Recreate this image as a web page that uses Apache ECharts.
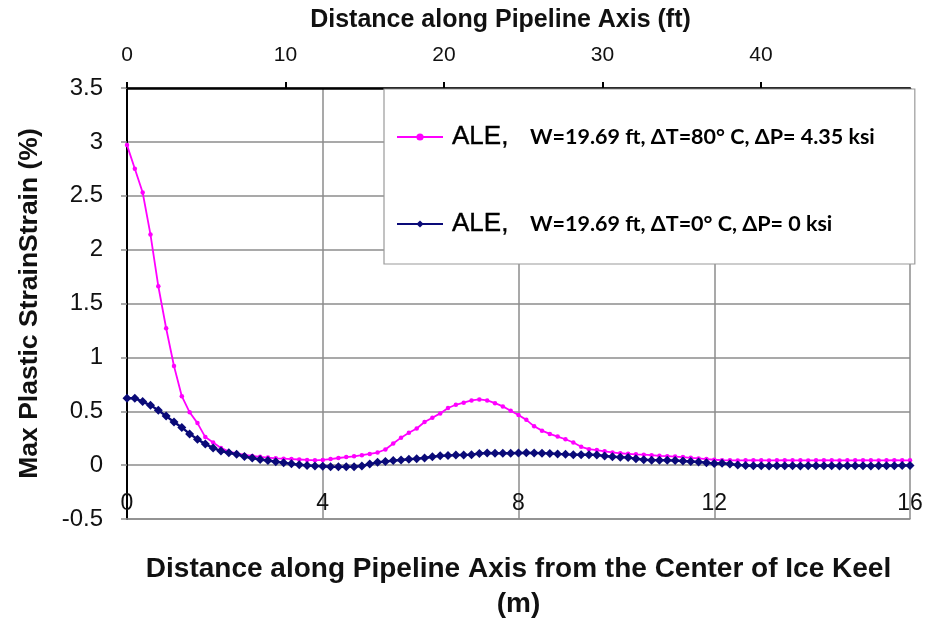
<!DOCTYPE html>
<html>
<head>
<meta charset="utf-8">
<script src="https://cdn.jsdelivr.net/npm/echarts@6/dist/echarts.min.js"></script>
<style>html,body{margin:0;padding:0;background:#fff}#c{width:927px;height:619px}</style>
</head>
<body>
<div id="c"></div>
<script>
// Distance along pipeline axis (m)
const distM = [0,0.16,0.32,0.48,0.64,0.8,0.96,1.12,1.28,1.44,1.6,1.76,1.92,2.08,2.24,2.4,2.56,2.72,2.88,3.04,3.2,3.36,3.52,3.68,3.84,4,4.16,4.32,4.48,4.64,4.8,4.96,5.12,5.28,5.44,5.6,5.76,5.92,6.08,6.24,6.4,6.56,6.72,6.88,7.04,7.2,7.36,7.52,7.68,7.84,8,8.16,8.32,8.48,8.64,8.8,8.96,9.12,9.28,9.44,9.6,9.76,9.92,10.08,10.24,10.4,10.56,10.72,10.88,11.04,11.2,11.36,11.52,11.68,11.84,12,12.16,12.32,12.48,12.64,12.8,12.96,13.12,13.28,13.44,13.6,13.76,13.92,14.08,14.24,14.4,14.56,14.72,14.88,15.04,15.2,15.36,15.52,15.68,15.84,16];
// ALE, dT=80 C, dP=4.35 ksi
const strainHot = [2.97,2.75,2.53,2.14,1.66,1.27,0.92,0.64,0.49,0.39,0.26,0.21,0.16,0.125,0.11,0.095,0.085,0.077,0.07,0.063,0.06,0.056,0.052,0.048,0.045,0.048,0.056,0.066,0.075,0.082,0.092,0.104,0.117,0.145,0.2,0.255,0.3,0.34,0.4,0.44,0.48,0.53,0.56,0.58,0.6,0.61,0.6,0.575,0.545,0.505,0.465,0.42,0.36,0.32,0.29,0.265,0.24,0.21,0.17,0.148,0.14,0.128,0.118,0.11,0.105,0.1,0.097,0.092,0.086,0.083,0.079,0.075,0.068,0.062,0.056,0.05,0.046,0.045,0.044,0.045,0.046,0.045,0.044,0.045,0.046,0.045,0.045,0.044,0.045,0.046,0.045,0.044,0.045,0.045,0.046,0.045,0.044,0.045,0.046,0.045,0.045];
// ALE, dT=0 C, dP=0 ksi
const strainCold = [0.62,0.62,0.59,0.555,0.51,0.455,0.4,0.35,0.29,0.24,0.195,0.16,0.13,0.115,0.1,0.08,0.065,0.052,0.043,0.032,0.022,0.012,0.003,-0.003,-0.007,-0.01,-0.015,-0.016,-0.016,-0.014,-0.008,0.01,0.026,0.034,0.042,0.048,0.055,0.06,0.066,0.078,0.086,0.09,0.093,0.095,0.097,0.108,0.113,0.11,0.11,0.11,0.112,0.114,0.113,0.111,0.109,0.104,0.1,0.097,0.096,0.096,0.095,0.085,0.078,0.074,0.07,0.06,0.05,0.046,0.046,0.045,0.042,0.038,0.034,0.03,0.022,0.014,0.018,0.01,0.002,-0.004,-0.006,-0.005,-0.007,-0.006,-0.005,-0.006,-0.007,-0.005,-0.006,-0.006,-0.005,-0.007,-0.006,-0.005,-0.006,-0.007,-0.005,-0.006,-0.005,-0.004,-0.003];

const seriesNames = ['ALE80', 'ALE0'];
const legendLead = ['ALE,', 'ALE,'];
const legendDetail = ['W=19.69 ft, ΔT=80° C, ΔP= 4.35 ksi', 'W=19.69 ft, ΔT=0° C, ΔP= 0 ksi'];
const yTitle = 'Max Plastic StrainStrain (%)';
const xTitle = 'Distance along Pipeline Axis from the Center of Ice Keel\n(m)';
const xTopTitle = 'Distance along Pipeline Axis (ft)';

const chart = echarts.init(document.getElementById('c'), null, {renderer: 'canvas'});
const grid = '#8c8c8c';
chart.setOption({
  animation: false,
  backgroundColor: '#fff',
  grid: {left: 127, right: 17, top: 88, bottom: 100, containLabel: false, outerBoundsMode: 'none'},
  legend: {
    orient: 'vertical',
    left: 384, top: 89,
    padding: [33, 40, 25, 12],
    itemGap: 57,
    itemWidth: 46, itemHeight: 9,
    backgroundColor: '#fff',
    borderColor: '#9a9a9a', borderWidth: 1.2,
    data: seriesNames,
    formatter: function (name) {
      const i = seriesNames.indexOf(name);
      return '{s|}{a|' + legendLead[i] + '}{b|' + legendDetail[i] + '}';
    },
    textStyle: {
      lineHeight: 30,
      rich: {
        s: {width: 4, lineHeight: 30},
        a: {fontFamily: 'Liberation Sans, Arial', fontSize: 26, color: '#000', width: 78, lineHeight: 30,
            textBorderColor: '#000', textBorderWidth: 0.4},
        b: {fontFamily: 'Lato, Open Sans, sans-serif', fontWeight: 'bold', fontSize: 21.5, color: '#000', lineHeight: 30}
      }
    }
  },
  xAxis: [{
    type: 'value', position: 'bottom', min: 0, max: 16, interval: 4,
    name: xTitle, nameLocation: 'middle', nameGap: 33,
    nameTextStyle: {fontFamily: 'Liberation Sans, Arial', fontWeight: 'bold', fontSize: 28, color: '#111', lineHeight: 35},
    axisLine: {show: true, onZero: false, lineStyle: {color: grid, width: 1.5}},
    axisTick: {show: false},
    axisLabel: {inside: true, margin: 4, fontFamily: 'Liberation Sans Narrow, Liberation Sans, Arial', fontSize: 23, color: '#111'},
    splitLine: {show: true, lineStyle: {color: grid, width: 1.5}}
  }, {
    type: 'value', position: 'top', min: 0, max: 49.4, interval: 10,
    name: xTopTitle, nameLocation: 'middle', nameGap: 55,
    nameTextStyle: {fontFamily: 'Liberation Sans, Arial', fontWeight: 'bold', fontSize: 25, color: '#111', padding: [0, 36, 0, 0]},
    axisLine: {show: true, onZero: false, lineStyle: {color: '#000', width: 2.5}},
    axisTick: {show: true, inside: false, length: 6, lineStyle: {color: '#000', width: 2}},
    axisLabel: {margin: 22, fontFamily: 'Liberation Sans Narrow, Liberation Sans, Arial', fontSize: 21, color: '#111',
      showMaxLabel: false},
    splitLine: {show: false}
  }],
  yAxis: {
    type: 'value', min: -0.5, max: 3.5, interval: 0.5,
    name: yTitle, nameLocation: 'middle', nameGap: 84,
    nameTextStyle: {fontFamily: 'Liberation Sans, Arial', fontWeight: 'bold', fontSize: 26.5, color: '#111'},
    axisLine: {show: true, onZero: false, lineStyle: {color: '#000', width: 2}},
    axisTick: {show: true, length: 6, lineStyle: {color: grid, width: 1.5}},
    axisLabel: {margin: 24, fontFamily: 'Liberation Sans, Arial', fontSize: 24, color: '#111'},
    splitLine: {show: true, lineStyle: {color: grid, width: 1.5}}
  },
  series: [{
    name: seriesNames[0], type: 'line', xAxisIndex: 0,
    data: distM.map((x, i) => [x, strainHot[i]]),
    symbol: 'circle', symbolSize: 4.5, showSymbol: true,
    lineStyle: {color: '#ff00ff', width: 1.8},
    itemStyle: {color: '#ff00ff'}
  }, {
    name: seriesNames[1], type: 'line', xAxisIndex: 0,
    data: distM.map((x, i) => [x, strainCold[i]]),
    symbol: 'diamond', symbolSize: 9, showSymbol: true,
    lineStyle: {color: '#0a0a78', width: 2.4},
    itemStyle: {color: '#0a0a78'}
  }]
});
</script>
</body>
</html>
